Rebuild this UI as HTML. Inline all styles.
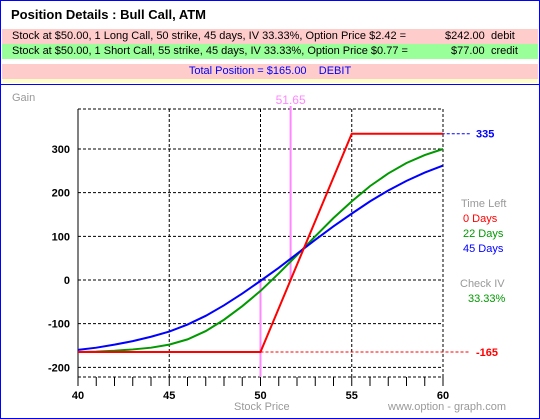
<!DOCTYPE html>
<html><head><meta charset="utf-8"><style>
body{margin:0;width:540px;height:419px;overflow:hidden;background:#fff;font-family:"Liberation Sans",sans-serif}
#wrap{position:absolute;left:0;top:0;width:538px;height:417px;border:1px solid #0000ff}
.row{position:absolute;left:1px;width:536px;height:15px;font-size:11px;line-height:15px;color:#000}
</style></head><body>
<div id="wrap">
<div style="position:absolute;left:10px;top:6px;font-size:13px;font-weight:bold">Position Details : Bull Call, ATM</div>
<div class="row" style="top:28px;background:#ffcccc"><span style="position:absolute;left:10px">Stock at $50.00, 1 Long Call, 50 strike, 45 days, IV 33.33%, Option Price $2.42 =</span><span style="position:absolute;left:443px">$242.00</span><span style="position:absolute;left:489px">debit</span></div>
<div class="row" style="top:43px;background:#99ff99"><span style="position:absolute;left:10px">Stock at $50.00, 1 Short Call, 55 strike, 45 days, IV 33.33%, Option Price $0.77 =</span><span style="position:absolute;left:449px">$77.00</span><span style="position:absolute;left:489px">credit</span></div>
<div class="row" style="top:63px;background:#ffcccc;color:#0000ff;text-align:center">Total Position = $165.00 &nbsp;&nbsp; DEBIT</div>
<div style="position:absolute;left:1px;top:78px;width:536px;height:4px;background:#ffffcc"></div>
<div style="position:absolute;left:0;top:83px;width:538px;height:1px;background:#0000ff"></div>
</div>
<svg id="chart" width="540" height="419" style="position:absolute;left:0;top:0"></svg>
<script>
const xs=[40,41,42,43,44,45,46,47,48,49,50,51,52,53,54,55,56,57,58,59,60];
const days45=[-160,-155,-148,-140,-130,-118,-102,-82,-58,-31,-2,28,60,92,123,152,180,205,227,246,262];
const days22=[-165,-164,-162,-159,-155,-148,-136,-117,-91,-60,-25,15,57,100,142,180,215,244,268,286,300];
const expX=[40,50,55,60];
const expY=[-165,-165,335,335];
const xTicks=[40,45,50,55,60];
const yTicks=[-200,-100,0,100,200,300];
const breakeven=51.65, maxGain=335, maxLoss=-165, stockPrice=50;
const X=v=>78+(v-40)*(443-78)/20;
const Y=v=>280-v*0.4367;
const svg=document.getElementById('chart');const NS='http://www.w3.org/2000/svg';
function mk(t,a,txt){const e=document.createElementNS(NS,t);for(const k in a)e.setAttribute(k,a[k]);if(txt!=null)e.textContent=txt;svg.appendChild(e);return e;}
const plotTop=109,plotBot=377;
for(const v of yTicks){const l=mk('line',{x1:78,x2:443,y1:Y(v),y2:Y(v),stroke:'#000','stroke-dasharray':'3,2'});

const t=mk('text',{x:70,y:Y(v)+4,'text-anchor':'end','font-size':11,'font-weight':'bold'},v);
}
for(const yy of [plotTop,plotBot]){const l=mk('line',{x1:78,x2:443,y1:yy,y2:yy,stroke:'#000','stroke-dasharray':'3,2'});
}
for(const v of xTicks){const l=mk('line',{x1:X(v),x2:X(v),y1:plotTop,y2:plotBot,stroke:'#000','stroke-dasharray':v==40?'none':'3,2'});

const t=mk('text',{x:X(v),y:399,'text-anchor':'middle','font-size':11,'font-weight':'bold'},v);
}
for(let v=40;v<=60;v++){const l=mk('line',{x1:X(v),x2:X(v),y1:plotBot,y2:plotBot+9,stroke:'#000'});
}
let l=mk('line',{x1:X(55),x2:470,y1:Y(maxGain),y2:Y(maxGain),stroke:'#0000ff','stroke-dasharray':'3,2'});

l=mk('line',{x1:X(50),x2:470,y1:Y(maxLoss),y2:Y(maxLoss),stroke:'#ff0000','stroke-dasharray':'3,2'});

let t=mk('text',{x:476,y:Y(maxGain)+4,'font-size':11,'font-weight':'bold',fill:'#0000ff'},maxGain);

t=mk('text',{x:476,y:Y(maxLoss)+4,'font-size':11,'font-weight':'bold',fill:'#ff0000'},maxLoss);

l=mk('line',{x1:X(breakeven),x2:X(breakeven),y1:106,y2:Y(0),stroke:'#ff88ff','stroke-width':2});

l=mk('line',{x1:X(stockPrice),x2:X(stockPrice),y1:Y(0),y2:plotBot,stroke:'#ff88ff','stroke-width':2});

t=mk('text',{x:X(breakeven),y:104,'text-anchor':'middle','font-size':12,fill:'#ff88ff'},breakeven.toFixed(2));

function pts(a,b){return a.map((v,i)=>X(v)+','+Y(b[i])).join(' ');}
let p=mk('polyline',{points:pts(xs,days22),fill:'none',stroke:'#009900','stroke-width':2});

p=mk('polyline',{points:pts(xs,days45),fill:'none',stroke:'#0000ff','stroke-width':2});

p=mk('polyline',{points:pts(expX,expY),fill:'none',stroke:'#ff0000','stroke-width':2});

const lab=[['Gain',12,101,'#999','y-axis-title'],['Stock Price',234,410,'#999','x-axis-title'],['www.option - graph.com',388,410,'#999','watermark'],
['Time Left',461,207,'#999','legend-title'],['0 Days',463,222,'#ff0000','legend-0-days'],['22 Days',463,237,'#009900','legend-22-days'],['45 Days',463,252,'#0000ff','legend-45-days'],
['Check IV',460,287,'#999','check-iv-label'],['33.33%',468,302,'#009900','check-iv-value']];
for(const [s1,x,y,c,n] of lab){const e=mk('text',{x:x,y:y,'font-size':11,fill:c},s1);
}
</script>
</body></html>
